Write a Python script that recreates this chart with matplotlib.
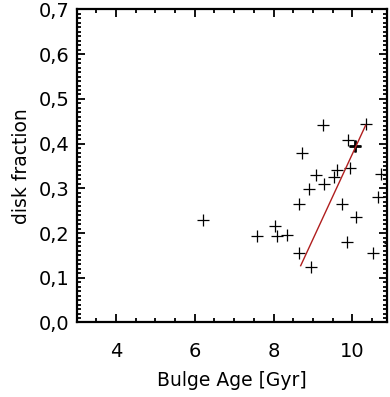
import numpy as np
import matplotlib
matplotlib.use('Agg')
import matplotlib.pyplot as plt
from matplotlib.ticker import MultipleLocator, FuncFormatter

# bulge age [Gyr] vs disk fraction
age = [6.20, 7.57, 8.03, 8.09, 8.33, 8.64, 8.95, 8.64, 8.73, 8.90,
       9.09, 9.28, 9.26, 9.53, 9.61, 9.74, 9.88, 9.94, 10.06, 10.09,
       9.86, 10.36, 10.53, 10.65, 10.74, 10.95]
dfrac = [0.230, 0.194, 0.216, 0.194, 0.196, 0.155, 0.125, 0.266, 0.378, 0.299,
         0.329, 0.310, 0.441, 0.326, 0.340, 0.266, 0.409, 0.346, 0.394, 0.236,
         0.181, 0.444, 0.155, 0.280, 0.333, 0.178]

# fit line end points
fit_x = [8.69, 10.34]
fit_y = [0.127, 0.441]

fig = plt.figure(figsize=(3.9, 3.97), dpi=100)
ax = fig.add_axes([0.1967, 0.1877, 0.7953, 0.7884])

ax.plot(age, dfrac, '+', color='black', markersize=9, markeredgewidth=0.9)
ax.plot([10.06], [0.394], '+', color='black', markersize=9, markeredgewidth=2.0)
ax.plot(fit_x, fit_y, '-', color='#b01e1e', linewidth=1.0)

ax.set_xlim(3.0, 10.88)
ax.set_ylim(0.0, 0.7)

ax.xaxis.set_major_locator(MultipleLocator(2))
ax.xaxis.set_minor_locator(MultipleLocator(0.5))
ax.yaxis.set_major_locator(MultipleLocator(0.1))
ax.yaxis.set_minor_locator(MultipleLocator(0.01))
ax.yaxis.set_major_formatter(FuncFormatter(lambda v, p: ('%.1f' % v).replace('.', ',')))

ax.tick_params(which='both', direction='in', top=True, right=True, labelsize=14, width=1.3)
ax.tick_params(which='major', length=6)
ax.tick_params(axis='x', which='major', pad=14)
ax.tick_params(axis='y', which='major', pad=5)
ax.tick_params(which='minor', length=3)
for s in ax.spines.values():
    s.set_linewidth(1.6)

ax.set_xlabel('Bulge Age [Gyr]', fontsize=13.5, labelpad=7)
ax.set_ylabel('disk fraction', fontsize=13.5, labelpad=6)

fig.savefig('out.png', dpi=100)
